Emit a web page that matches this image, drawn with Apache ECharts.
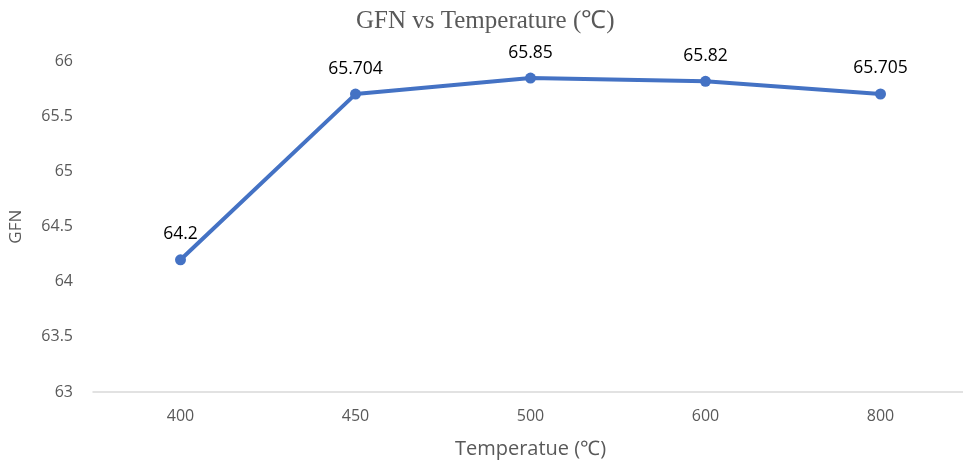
<!DOCTYPE html>
<html><head><meta charset="utf-8">
<script src="https://cdn.jsdelivr.net/npm/echarts@6/dist/echarts.min.js"></script>
<style>html,body{margin:0;padding:0;background:#fff}#c{width:963px;height:465px}</style>
</head><body><div id="c"></div>
<script>
const categories = ['400','450','500','600','800'];
const gfnValues = [64.2, 65.704, 65.85, 65.82, 65.705];
const yTicks = [63, 63.5, 64, 64.5, 65, 65.5, 66];

const chart = echarts.init(document.getElementById('c'));
chart.setOption({
  animation: false,
  title: {
    text: 'GFN vs Temperature (℃)',
    left: 351, top: 4,
    textStyle: { fontFamily: 'Liberation Serif', fontSize: 25, fontWeight: 'normal', color: '#595959' }
  },
  grid: { left: 93, top: 61.5, width: 875, height: 330.5, containLabel: false, outerBoundsMode: 'none' },
  xAxis: {
    type: 'category', data: categories, boundaryGap: true,
    name: 'Temperatue (℃)', nameLocation: 'middle', nameGap: 47,
    nameTextStyle: { fontFamily: 'Open Sans', fontSize: 20, color: '#595959' },
    axisLine: { lineStyle: { color: '#d9d9d9', width: 1.5 } },
    axisTick: { show: false },
    axisLabel: { fontFamily: 'Open Sans', fontSize: 16, color: '#595959', margin: 16 }
  },
  yAxis: {
    type: 'value', min: yTicks[0], max: yTicks[yTicks.length - 1], interval: 0.5,
    name: 'GFN', nameLocation: 'middle', nameGap: 68,
    nameTextStyle: { fontFamily: 'Open Sans', fontSize: 17, color: '#595959' },
    axisLine: { show: false }, axisTick: { show: false },
    splitLine: { show: false },
    axisLabel: { fontFamily: 'Open Sans', fontSize: 16, color: '#595959', margin: 20 }
  },
  series: [{
    type: 'line', data: gfnValues,
    symbol: 'circle', symbolSize: 11,
    lineStyle: { color: '#4472C4', width: 4 },
    itemStyle: { color: '#4472C4' },
    label: { show: true, position: 'top', distance: 11, fontFamily: 'Open Sans', fontSize: 17.5, color: '#000' }
  }]
});
</script></body></html>
